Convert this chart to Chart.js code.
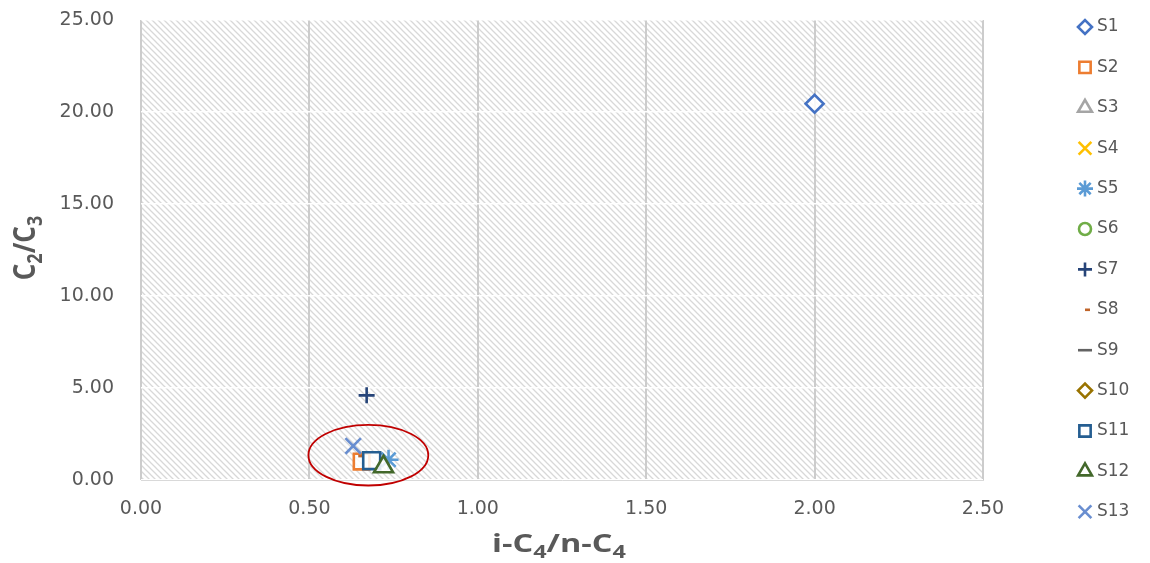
<!DOCTYPE html>
<html><head><meta charset="utf-8">
<script src="https://cdn.jsdelivr.net/npm/chart.js@4"></script>
<style>html,body{margin:0;padding:0;background:#fff}#wrap{width:1150px;height:563px}</style>
</head><body><div id="wrap"><canvas id="c" width="1150" height="563"></canvas></div>
<script>
// ---- data ----
const seriesNames = ['S1','S2','S3','S4','S5','S6','S7','S8','S9','S10','S11','S12','S13'];
const S1  = [{x:2.00, y:20.45}];
const S2  = [{x:0.655, y:1.00}];
const S3  = [];
const S4  = [];
const S5  = [{x:0.735, y:1.10}];
const S6  = [];
const S7  = [{x:0.67, y:4.60}];
const S8  = [{x:0.645, y:1.30}];
const S9  = [];
const S10 = [];
const S11 = [{x:0.685, y:1.05}];
const S12 = [{x:0.72, y:0.72}];
const S13 = [{x:0.63, y:1.85}];
const xTicks = [0, 0.5, 1.0, 1.5, 2.0, 2.5];
const yTicks = [0, 5, 10, 15, 20, 25];
const highlight = {cx:0.675, cy:1.35, rx:0.178, ry:1.65};

const seriesData = [S1,S2,S3,S4,S5,S6,S7,S8,S9,S10,S11,S12,S13];
const colors = ['#4472C4','#ED7D31','#A5A5A5','#FFC000','#5B9BD5','#70AD47','#264478','#C0652A','#636363','#997300','#255E91','#43682B','#698ED0'];
const styles = ['rectRot','rect','triangle','crossRot','star','circle','cross','dash','line','rectRot','rect','triangle','crossRot'];
const radii  = [9,11,10,11,10,8,8,6,8,9,12,11,11];
const legendR= [7,8,8,9,8,6,7,5,7,7,8,8,9];

const datasets = seriesData.map((d,i)=>({
  label: seriesNames[i], data: d, order: 13 - i,
  pointStyle: styles[i], pointRadius: radii[i], pointHoverRadius: radii[i],
  borderColor: colors[i], backgroundColor: 'rgba(255,255,255,0.85)',
  pointBorderWidth: 2.6, showLine:false
}));

function hatch(ctx){
  const p = document.createElement('canvas'); p.width = 6; p.height = 6;
  const g = p.getContext('2d');
  g.fillStyle = '#ffffff'; g.fillRect(0,0,6,6);
  g.strokeStyle = '#d8d8d8'; g.lineWidth = 1.3;
  g.beginPath();
  g.moveTo(-1,-1); g.lineTo(7,7);
  g.moveTo(-1,5); g.lineTo(1,7);
  g.moveTo(5,-1); g.lineTo(7,1);
  g.stroke();
  return ctx.createPattern(p,'repeat');
}

const FONT = "'DejaVu Sans', sans-serif";
const TFONT = "'Open Sans', sans-serif";
const GRAY = '#595959';

function subText(ctx, parts, big, small){
  let w = 0;
  parts.forEach(p=>{ ctx.font = 'bold ' + (p[1]?small:big) + 'px ' + TFONT; w += ctx.measureText(p[0]).width; });
  let cx = -w/2;
  parts.forEach(p=>{
    ctx.font = 'bold ' + (p[1]?small:big) + 'px ' + TFONT;
    ctx.fillText(p[0], cx, p[1]? big*0.22 : 0);
    cx += ctx.measureText(p[0]).width;
  });
}

const deco = {
  id:'deco',
  beforeDraw(chart){
    const {ctx, chartArea:a} = chart;
    ctx.save();
    ctx.fillStyle = hatch(ctx);
    ctx.fillRect(a.left, a.top, a.right-a.left, a.bottom-a.top);
    ctx.restore();
  },
  afterDraw(chart){
    const {ctx, chartArea:a, scales:{x,y}} = chart;
    ctx.save();
    const cx = x.getPixelForValue(highlight.cx), cy = y.getPixelForValue(highlight.cy);
    const rx = Math.abs(x.getPixelForValue(highlight.cx+highlight.rx) - cx);
    const ry = Math.abs(y.getPixelForValue(highlight.cy+highlight.ry) - cy);
    ctx.strokeStyle = '#C00000'; ctx.lineWidth = 1.8;
    ctx.beginPath(); ctx.ellipse(cx, cy, rx, ry, 0, 0, Math.PI*2); ctx.stroke();
    ctx.restore();
    // axis titles
    ctx.save();
    ctx.fillStyle = GRAY; ctx.textBaseline = 'alphabetic';
    ctx.translate((a.left+a.right)/2 - 3, 552);
    ctx.scale(1.3, 1);
    subText(ctx, [['i-C',0],['4',1],['/n-C',0],['4',1]], 25, 18);
    ctx.restore();
    ctx.save();
    ctx.fillStyle = GRAY; ctx.textBaseline = 'alphabetic';
    ctx.translate(35, (a.top+a.bottom)/2 - 2);
    ctx.rotate(-Math.PI/2);
    ctx.scale(1, 1.15);
    subText(ctx, [['C',0],['2',1],['/C',0],['3',1]], 26, 18);
    ctx.restore();
    // legend
    ctx.save();
    ctx.textBaseline = 'middle'; ctx.textAlign = 'left';
    ctx.font = '17px ' + FONT; ctx.fillStyle = GRAY;
    seriesNames.forEach((n,i)=>{
      const ly = 27 + i*40.4;
      ctx.save();
      ctx.strokeStyle = colors[i]; ctx.fillStyle = '#ffffff'; ctx.lineWidth = 2.6;
      Chart.helpers.drawPoint(ctx, {pointStyle: styles[i], radius: legendR[i], borderWidth: 2.6}, 1085, ly);
      ctx.restore();
      ctx.fillText(n, 1097, ly);
    });
    ctx.restore();
  }
};

new Chart(document.getElementById('c'), {
  type:'scatter',
  data:{datasets},
  options:{
    responsive:false, animation:false, devicePixelRatio:1,
    layout:{padding:{top:20, right:167, left:0, bottom:0}},
    plugins:{legend:{display:false}, tooltip:{enabled:false}},
    scales:{
      x:{type:'linear', min:0, max:2.5,
        afterBuildTicks(s){ s.ticks = xTicks.map(v=>({value:v})); },
        afterFit(s){ s.height = 83; s.paddingLeft = 0; s.paddingRight = 0; },
        grid:{color:'#cccccc', lineWidth:2, drawTicks:false},
        border:{display:true, color:'#d9d9d9', width:1},
        ticks:{padding:18, color:GRAY, font:{family:FONT, size:19}, callback:v=>Number(v).toFixed(2), maxRotation:0}
      },
      y:{type:'linear', min:0, max:25,
        afterBuildTicks(s){ s.ticks = yTicks.map(v=>({value:v})); },
        afterFit(s){ s.width = 141; s.paddingTop = 0; s.paddingBottom = 0; },
        grid:{color:'#ffffff', lineWidth:1.5, drawTicks:false},
        border:{display:false},
        ticks:{padding:27, color:GRAY, font:{family:FONT, size:19}, callback:v=>Number(v).toFixed(2)}
      }
    }
  },
  plugins:[deco]
});
</script></body></html>
